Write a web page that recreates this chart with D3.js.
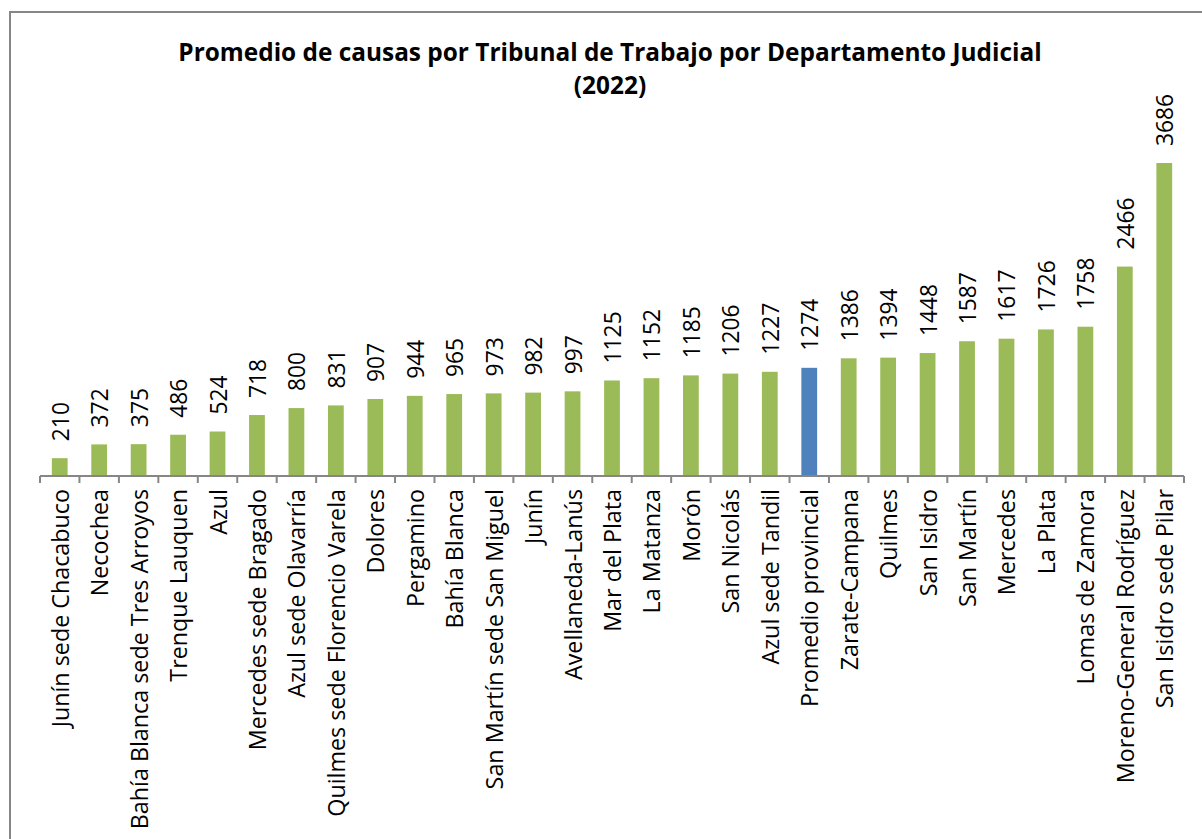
<!DOCTYPE html>
<html>
<head>
<meta charset="utf-8">
<script src="https://cdn.jsdelivr.net/npm/d3@7"></script>
<style>
  body { margin: 0; background: #fff; }
  text { font-family: "Open Sans", sans-serif; }
</style>
</head>
<body>
<div id="chart"></div>
<script>
var categories = ['Junín sede Chacabuco', 'Necochea', 'Bahía Blanca sede Tres Arroyos',
  'Trenque Lauquen', 'Azul', 'Mercedes sede Bragado', 'Azul sede Olavarría',
  'Quilmes sede Florencio Varela', 'Dolores', 'Pergamino', 'Bahía Blanca',
  'San Martín sede San Miguel', 'Junín', 'Avellaneda-Lanús', 'Mar del Plata',
  'La Matanza', 'Morón', 'San Nicolás', 'Azul sede Tandil', 'Promedio provincial',
  'Zarate-Campana', 'Quilmes', 'San Isidro', 'San Martín', 'Mercedes', 'La Plata',
  'Lomas de Zamora', 'Moreno-General Rodríguez', 'San Isidro sede Pilar'];
var values = [210, 372, 375, 486, 524, 718, 800, 831, 907, 944, 965, 973, 982, 997,
  1125, 1152, 1185, 1206, 1227, 1274, 1386, 1394, 1448, 1587, 1617, 1726, 1758, 2466, 3686];
var highlight = 'Promedio provincial';
var titleLines = ['Promedio de causas por Tribunal de Trabajo por Departamento Judicial', '(2022)'];

var chartWidth = 1202;
var chartHeight = 839;
var axisY = 476;
var axisLeft = 40;
var axisRight = 1184;

var svg = d3.select('#chart')
    .append('svg')
    .attr('width', chartWidth)
    .attr('height', chartHeight);

// frame (right and bottom edges fall outside the picture)
svg.append('rect')
    .attr('x', 10)
    .attr('y', 12)
    .attr('width', chartWidth + 20)
    .attr('height', chartHeight + 20)
    .attr('fill', 'none')
    .attr('stroke', '#868686')
    .attr('stroke-width', 2);

// title
svg.append('g').selectAll('text')
    .data(titleLines)
    .enter()
    .append('text')
    .text(function(d) { return d; })
    .attr('x', 610)
    .attr('y', function(d, i) { return 61 + i * 33; })
    .attr('text-anchor', 'middle')
    .attr('font-size', 24.4)
    .attr('font-weight', 'bold')
    .attr('fill', '#000');

// scales
var scaleX = d3.scaleBand()
    .domain(categories)
    .range([axisLeft, axisRight])
    .paddingInner(0.6)
    .paddingOuter(0.3);
var scaleY = d3.scaleLinear()
    .domain([0, 4000])
    .range([axisY, axisY - 313 * 4000 / 3686]);

// bars
svg.append('g').selectAll('rect')
    .data(values)
    .enter()
    .append('rect')
    .attr('x', function(d, i) { return scaleX(categories[i]); })
    .attr('y', function(d) { return scaleY(d); })
    .attr('width', scaleX.bandwidth())
    .attr('height', function(d) { return axisY - scaleY(d); })
    .attr('fill', function(d, i) { return categories[i] === highlight ? '#4F81BD' : '#9BBB59'; });

// axis line and ticks between categories
var tickPos = d3.range(categories.length + 1).map(function(i) {
  return axisLeft + i * (axisRight - axisLeft) / categories.length;
});
var axis = svg.append('g');
axis.append('line')
    .attr('x1', axisLeft).attr('x2', axisRight)
    .attr('y1', axisY).attr('y2', axisY)
    .attr('stroke', '#868686')
    .attr('stroke-width', 2);
axis.selectAll('.tick')
    .data(tickPos)
    .enter()
    .append('line')
    .attr('class', 'tick')
    .attr('x1', function(d) { return d; })
    .attr('x2', function(d) { return d; })
    .attr('y1', axisY)
    .attr('y2', axisY + 7)
    .attr('stroke', '#868686')
    .attr('stroke-width', 2);

// category labels
svg.append('g').selectAll('text')
    .data(categories)
    .enter()
    .append('text')
    .text(function(d) { return d; })
    .attr('transform', function(d) {
      return 'translate(' + (scaleX(d) + scaleX.bandwidth() / 2 + 9) + ',' + (axisY + 13) + ') rotate(-90)';
    })
    .attr('text-anchor', 'end')
    .attr('font-size', 23.3)
    .attr('fill', '#000');

// value labels
svg.append('g').selectAll('text')
    .data(values)
    .enter()
    .append('text')
    .text(function(d) { return d; })
    .attr('transform', function(d, i) {
      return 'translate(' + (scaleX(categories[i]) + scaleX.bandwidth() / 2 + 9) + ',' + (scaleY(d) - 17) + ') rotate(-90)';
    })
    .attr('text-anchor', 'start')
    .attr('font-size', 22.8)
    .attr('fill', '#000');
</script>
</body>
</html>
